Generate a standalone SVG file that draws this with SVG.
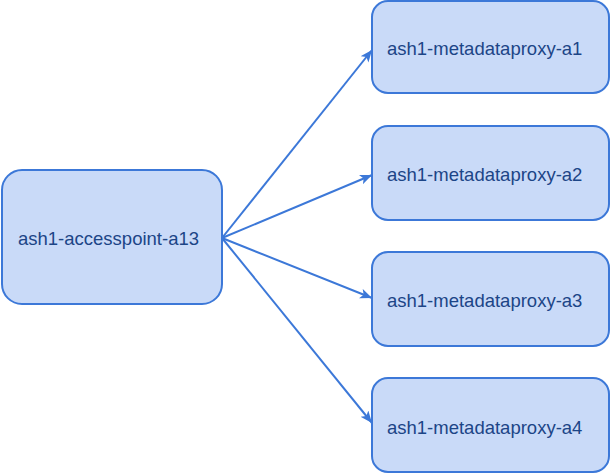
<svg xmlns="http://www.w3.org/2000/svg" width="612" height="475" viewBox="0 0 612 475">
<defs>
<style>
.node rect{fill:#c9daf8;stroke:#3c78d8;stroke-width:2}
.node text{font-family:"Liberation Sans",Arial,sans-serif;font-size:18.5px;fill:#1c4587}
.edge{stroke:#3c78d8;stroke-width:2;fill:none;marker-end:url(#arr)}
</style>
<marker id="arr" markerUnits="userSpaceOnUse" markerWidth="14" markerHeight="12" refX="12" refY="5" orient="auto">
<path d="M0,0 L12,5 L0,10 L3,5 z" fill="#3c78d8"/>
</marker>
</defs>
<rect width="612" height="475" fill="#ffffff"/>
<g id="connectors">
<line class="edge" x1="222" y1="238" x2="372" y2="50"/>
<line class="edge" x1="222" y1="238" x2="372" y2="175"/>
<line class="edge" x1="222" y1="238" x2="372" y2="298"/>
<line class="edge" x1="222" y1="238" x2="372" y2="423"/>
</g>
<g id="accesspoint" class="node">
<rect x="2" y="170" width="220" height="134" rx="20" ry="20"/>
<text x="18" y="245">ash1-accesspoint-a13</text>
</g>
<g id="proxy1" class="node">
<rect x="372" y="1" width="237" height="92" rx="16" ry="16"/>
<text x="387" y="55">ash1-metadataproxy-a1</text>
</g>
<g id="proxy2" class="node">
<rect x="372" y="126" width="237" height="94" rx="16" ry="16"/>
<text x="387" y="181">ash1-metadataproxy-a2</text>
</g>
<g id="proxy3" class="node">
<rect x="372" y="252" width="237" height="94" rx="16" ry="16"/>
<text x="387" y="307">ash1-metadataproxy-a3</text>
</g>
<g id="proxy4" class="node">
<rect x="372" y="378" width="237" height="94" rx="16" ry="16"/>
<text x="387" y="434">ash1-metadataproxy-a4</text>
</g>
</svg>
